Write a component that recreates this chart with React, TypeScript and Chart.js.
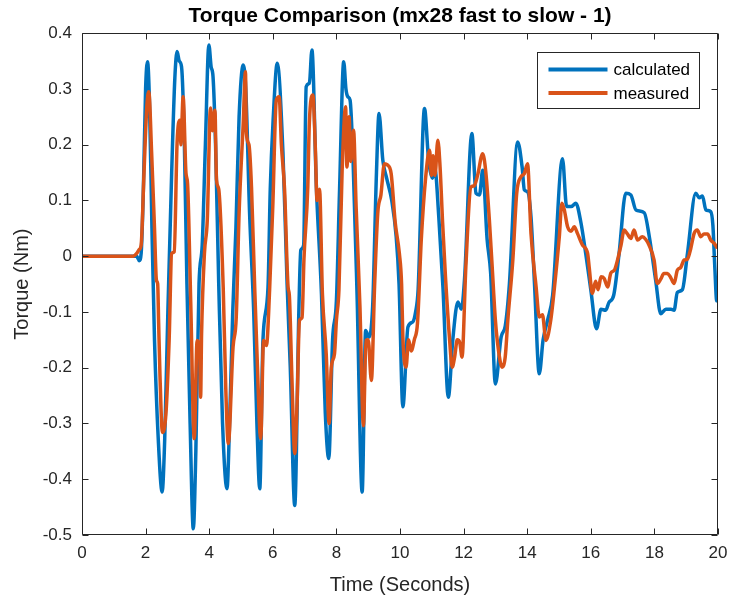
import React, { useEffect, useRef } from "react";
import { Chart, registerables } from "chart.js";

Chart.register(...registerables);

const chartTitle = "Torque Comparison (mx28 fast to slow - 1)";
const xAxisTitle = "Time (Seconds)";
const yAxisTitle = "Torque (Nm)";
const seriesLabels = ["calculated", "measured"];
const seriesColors = ["#0072BD", "#D95319"];
const xTicks = [0, 2, 4, 6, 8, 10, 12, 14, 16, 18, 20];
const yTicks = [-0.5, -0.4, -0.3, -0.2, -0.1, 0, 0.1, 0.2, 0.3, 0.4];

const calcTime = [
  0, 1.6, 1.72, 1.8, 1.86, 1.93, 2.0, 2.06, 2.12, 2.2, 2.28, 2.4, 2.52, 2.6, 2.7, 2.82, 2.92, 2.99, 3.06, 3.13,
  3.22, 3.3, 3.4, 3.5, 3.58, 3.68, 3.78, 3.88, 3.99, 4.06, 4.12, 4.2, 4.3, 4.42, 4.56, 4.64, 4.74, 4.84, 4.94,
  5.07, 5.15, 5.27, 5.4, 5.5, 5.59, 5.69, 5.85, 5.92, 6.01, 6.14, 6.32, 6.45, 6.55, 6.69, 6.82, 6.88, 6.97, 7.05,
  7.15, 7.23, 7.37, 7.53, 7.65, 7.76, 7.88, 8.0, 8.1, 8.23, 8.3, 8.36, 8.43, 8.52, 8.65, 8.81, 8.92, 9.02, 9.14,
  9.26, 9.34, 9.46, 9.58, 9.74, 9.88, 9.97, 10.09, 10.25, 10.4, 10.49, 10.57, 10.77, 10.9, 11.02, 11.1, 11.22,
  11.35, 11.52, 11.66, 11.82, 11.93, 12.03, 12.26, 12.39, 12.5, 12.6, 12.74, 12.85, 13.0, 13.18, 13.31, 13.44,
  13.7, 13.84, 13.91, 14.02, 14.12, 14.23, 14.38, 14.5, 14.64, 14.8, 15.11, 15.24, 15.38, 15.53, 15.69, 15.84,
  16.0, 16.18, 16.32, 16.47, 16.57, 16.72, 16.89, 17.1, 17.26, 17.42, 17.68, 17.84, 18.04, 18.2, 18.36, 18.52,
  18.62, 18.72, 18.88, 19.04, 19.3, 19.41, 19.51, 19.62, 19.77, 19.84, 19.9, 19.96, 20.0,
];
const calcTorque = [
  0, 0, 0, -0.008, 0.005, 0.12, 0.3, 0.349, 0.28, 0.05, -0.15, -0.33, -0.423, -0.33, -0.1, 0.15, 0.32, 0.367, 0.35, 0.34,
  0.2, -0.05, -0.3, -0.489, -0.35, -0.05, 0.02, 0.2, 0.379, 0.34, 0.322, 0.2, -0.05, -0.3, -0.417, -0.3, -0.1, 0.05, 0.25,
  0.343, 0.3, 0.077, -0.1, -0.3, -0.417, -0.151, -0.055, 0.12, 0.244, 0.346, 0.185, -0.05, -0.2, -0.447, -0.097, 0.011, 0.02, 0.304,
  0.31, 0.37, 0.124, -0.067, -0.28, -0.363, -0.15, -0.08, 0.12, 0.349, 0.3, 0.286, 0.28, 0.18, -0.07, -0.423, -0.133, -0.145, -0.09,
  0.15, 0.256, 0.172, 0.14, 0.1, 0.035, -0.05, -0.27, -0.127, -0.118, -0.1, -0.06, 0.265, 0.172, 0.14, 0.155, 0.07,
  -0.055, -0.253, -0.15, -0.082, -0.095, -0.04, 0.22, 0.113, 0.11, 0.154, 0.03, -0.03, -0.229, -0.145, -0.125, -0.05,
  0.205, 0.16, 0.119, 0.115, 0.07, -0.05, -0.211, -0.15, -0.115, -0.07, 0.175, 0.089, 0.089, 0.095, 0.06, 0.005,
  -0.06, -0.13, -0.095, -0.097, -0.083, -0.07, 0.005, 0.113, 0.11, 0.083, 0.078, 0.035, -0.043, -0.103, -0.095, -0.095,
  -0.097, -0.065, -0.06, 0.005, 0.113, 0.105, 0.108, 0.083, 0.08, 0.055, -0.02, -0.08, -0.045,
];

const measTime = [
  0, 1.6, 1.72, 1.8, 1.86, 1.95, 2.04, 2.1, 2.19, 2.28, 2.34, 2.38, 2.41, 2.45, 2.53, 2.64, 2.74, 2.82, 2.9, 2.99,
  3.08, 3.11, 3.18, 3.27, 3.32, 3.42, 3.53, 3.62, 3.7, 3.73, 3.76, 3.85, 3.94, 4.04, 4.1, 4.18, 4.23, 4.3, 4.44,
  4.52, 4.6, 4.75, 4.85, 4.94, 5.07, 5.14, 5.17, 5.25, 5.33, 5.43, 5.5, 5.62, 5.71, 5.8, 5.9, 6.0, 6.11, 6.2,
  6.27, 6.37, 6.48, 6.52, 6.6, 6.69, 6.76, 6.84, 6.92, 6.98, 7.1, 7.15, 7.26, 7.34, 7.39, 7.47, 7.56, 7.68, 7.77,
  7.84, 7.94, 8.0, 8.08, 8.18, 8.29, 8.33, 8.4, 8.45, 8.54, 8.62, 8.74, 8.85, 8.93, 9.0, 9.1, 9.2, 9.3, 9.4, 9.51,
  9.6, 9.72, 9.85, 9.98, 10.05, 10.09, 10.19, 10.27, 10.35, 10.45, 10.55, 10.67, 10.8, 10.93, 10.99, 11.04, 11.1,
  11.19, 11.26, 11.34, 11.43, 11.56, 11.64, 11.72, 11.8, 11.88, 11.95, 12.07, 12.23, 12.33, 12.44, 12.6, 12.7,
  12.81, 12.9, 13.0, 13.1, 13.21, 13.31, 13.39, 13.55, 13.67, 13.8, 13.91, 14.01, 14.12, 14.28, 14.38, 14.48,
  14.59, 14.74, 14.85, 15.01, 15.09, 15.16, 15.27, 15.38, 15.48, 15.58, 15.74, 15.9, 15.95, 16.05, 16.15, 16.23,
  16.32, 16.42, 16.53, 16.63, 16.74, 16.84, 16.95, 17.05, 17.15, 17.26, 17.36, 17.47, 17.62, 17.73, 17.83, 17.99,
  18.09, 18.2, 18.3, 18.41, 18.51, 18.62, 18.72, 18.83, 18.93, 19.04, 19.14, 19.25, 19.35, 19.46, 19.56, 19.67,
  19.77, 19.88, 19.98,
];
const measTorque = [
  0, 0, 0.005, 0.012, 0.02, 0.15, 0.27, 0.295, 0.185, 0.05, -0.043, -0.05, -0.12, -0.21, -0.316, -0.282, -0.151, 0.005, 0.008, 0.203,
  0.244, 0.2, 0.286, 0.149, 0.13, -0.085, -0.327, -0.151, -0.17, -0.253, -0.14, 0.005, 0.065, 0.266, 0.225, 0.262, 0.137, 0.12, -0.055,
  -0.235, -0.336, -0.163, -0.11, 0.077, 0.239, 0.331, 0.221, 0.2, 0.124, -0.055, -0.17, -0.327, -0.151, -0.16, -0.06, 0.09, 0.28, 0.286,
  0.2, 0.12, -0.055, -0.07, -0.217, -0.354, -0.27, -0.115, -0.11, -0.005, 0.124, 0.24, 0.289, 0.19, 0.1, 0.12, -0.067, -0.175, -0.3,
  -0.2, -0.175, -0.115, -0.06, 0.154, 0.268, 0.16, 0.25, 0.17, 0.226, 0.089, -0.09, -0.304, -0.151, -0.15, -0.223, -0.055, 0.077, 0.11, 0.166,
  0.164, 0.149, 0.06, 0.005, -0.05, -0.145, -0.199, -0.15, -0.17, -0.15, -0.12, 0.03, 0.137, 0.19, 0.145, 0.18, 0.145,
  0.208, 0.16, 0.06, -0.037, -0.15, -0.199, -0.18, -0.15, -0.155, -0.181, -0.02, 0.124, 0.126, 0.145, 0.184, 0.15,
  0.065, -0.02, -0.115, -0.17, -0.199, -0.18, -0.115, -0.005, 0.113, 0.142, 0.148, 0.166, 0.04, -0.055, -0.109, -0.105,
  -0.151, -0.115, -0.06, 0.035, 0.095, 0.085, 0.053, 0.045, 0.053, 0.041, 0.02, 0.005, -0.02, -0.067, -0.045, -0.06,
  -0.037, -0.04, -0.055, -0.03, -0.025, -0.007, 0.02, 0.047, 0.04, 0.032, 0.047, 0.029, 0.035, 0.03, 0.02, -0.007,
  -0.049, -0.041, -0.031, -0.031, -0.038, -0.049, -0.025, -0.02, -0.007, -0.005, 0.013, 0.041, 0.047, 0.035, 0.04, 0.04,
  0.029, 0.023, 0.014,
];

const FONT = "'Liberation Sans', Arial, Helvetica, sans-serif";
const AXIS_COLOR = "#262626";

const zip = (xs: number[], ys: number[]) => xs.map((x, i) => ({ x, y: ys[i] }));

const matlabPlugin = {
  id: "matlabBox",
  afterLayout(chart: any) {
    // centre the title over the axes, as MATLAB does
    const tb = chart.titleBlock;
    const a = chart.chartArea;
    if (tb && a) {
      tb.left = a.left;
      tb.right = a.right;
      tb.width = a.right - a.left;
    }
  },
  afterDatasetsDraw(chart: any) {
    const { ctx, chartArea: a, scales } = chart;
    ctx.save();
    ctx.strokeStyle = AXIS_COLOR;
    ctx.lineWidth = 1;
    const L = Math.round(a.left) + 0.5;
    const R = Math.round(a.right) - 0.5;
    const T = Math.round(a.top) + 0.5;
    const B = Math.round(a.bottom) - 0.5;
    ctx.beginPath();
    ctx.rect(L, T, R - L, B - T);
    const tl = 6;
    xTicks.forEach((v) => {
      const px = Math.round(scales.x.getPixelForValue(v)) + 0.5;
      ctx.moveTo(px, B);
      ctx.lineTo(px, B - tl);
      ctx.moveTo(px, T);
      ctx.lineTo(px, T + tl);
    });
    yTicks.forEach((v) => {
      const py = Math.round(scales.y.getPixelForValue(v)) + 0.5;
      ctx.moveTo(L, py);
      ctx.lineTo(L + tl, py);
      ctx.moveTo(R, py);
      ctx.lineTo(R - tl, py);
    });
    ctx.stroke();
    ctx.restore();
  },
  afterDraw(chart: any) {
    const { ctx, chartArea: a } = chart;
    const boxW = 162;
    const boxH = 56;
    const bx = Math.round(a.right - 19 - boxW) + 0.5;
    const by = Math.round(a.top + 19) + 0.5;
    ctx.save();
    ctx.fillStyle = "#ffffff";
    ctx.fillRect(bx, by, boxW, boxH);
    ctx.strokeStyle = AXIS_COLOR;
    ctx.lineWidth = 1;
    ctx.strokeRect(bx, by, boxW, boxH);
    ctx.font = `17px ${FONT}`;
    ctx.textBaseline = "middle";
    ctx.textAlign = "left";
    chart.data.datasets.forEach((ds: any, i: number) => {
      const y = by + 17 + i * 23.5;
      ctx.strokeStyle = ds.borderColor;
      ctx.lineWidth = 4;
      ctx.beginPath();
      ctx.moveTo(bx + 11, y);
      ctx.lineTo(bx + 70, y);
      ctx.stroke();
      ctx.fillStyle = "#000000";
      ctx.fillText(ds.label, bx + 76, y + 1);
    });
    ctx.restore();
  },
};

export default function App() {
  const canvasRef = useRef<HTMLCanvasElement | null>(null);

  useEffect(() => {
    if (!canvasRef.current) return;
    const chart = new Chart(canvasRef.current, {
      type: "line",
      data: {
        datasets: [
          {
            label: seriesLabels[0],
            data: zip(calcTime, calcTorque),
            borderColor: seriesColors[0],
            backgroundColor: seriesColors[0],
            borderWidth: 3.5,
            pointRadius: 0,
            cubicInterpolationMode: "monotone",
            order: 2,
          },
          {
            label: seriesLabels[1],
            data: zip(measTime, measTorque),
            borderColor: seriesColors[1],
            backgroundColor: seriesColors[1],
            borderWidth: 3.5,
            pointRadius: 0,
            cubicInterpolationMode: "monotone",
            order: 1,
          },
        ],
      },
      options: {
        animation: false,
        responsive: true,
        maintainAspectRatio: false,
        parsing: false as any,
        layout: { padding: { left: 0, right: 13, top: 0, bottom: 0 } },
        plugins: {
          legend: { display: false },
          tooltip: { enabled: false },
          title: {
            display: true,
            text: chartTitle,
            color: "#000000",
            font: { family: FONT, size: 21, weight: "bold", lineHeight: 1.2 },
            padding: { top: 4, bottom: 4 },
          },
        },
        scales: {
          x: {
            type: "linear",
            min: 0,
            max: 20,
            afterFit: (s: any) => {
              s.height = 68;
              s.paddingLeft = 0;
              s.paddingRight = 0;
            },
            afterBuildTicks: (s: any) => {
              s.ticks = xTicks.map((v) => ({ value: v }));
            },
            grid: { display: false, drawTicks: false },
            border: { display: false },
            ticks: {
              color: AXIS_COLOR,
              font: { family: FONT, size: 17 },
              padding: 8,
              maxRotation: 0,
              autoSkip: false,
              callback: (v: any) => String(v),
            },
            title: {
              display: true,
              text: xAxisTitle,
              color: AXIS_COLOR,
              font: { family: FONT, size: 20, lineHeight: 1.2 },
              padding: { top: 0, bottom: 6 },
            },
          },
          y: {
            type: "linear",
            min: -0.5,
            max: 0.4,
            afterFit: (s: any) => {
              s.width = 82;
              s.paddingTop = 0;
              s.paddingBottom = 0;
            },
            afterBuildTicks: (s: any) => {
              s.ticks = yTicks.map((v) => ({ value: v }));
            },
            grid: { display: false, drawTicks: false },
            border: { display: false },
            ticks: {
              color: AXIS_COLOR,
              font: { family: FONT, size: 17 },
              padding: 10,
              autoSkip: false,
              callback: (v: any) => String(Number(Number(v).toFixed(1))),
            },
            title: {
              display: true,
              text: yAxisTitle,
              color: AXIS_COLOR,
              font: { family: FONT, size: 20, lineHeight: 1.2 },
              padding: { top: 10, bottom: 0 },
            },
          },
        },
      },
      plugins: [matlabPlugin],
    });
    return () => chart.destroy();
  }, []);

  return (
    <div style={{ position: "absolute", left: 0, top: 0, width: 731, height: 603, background: "#ffffff" }}>
      <canvas ref={canvasRef} />
    </div>
  );
}
